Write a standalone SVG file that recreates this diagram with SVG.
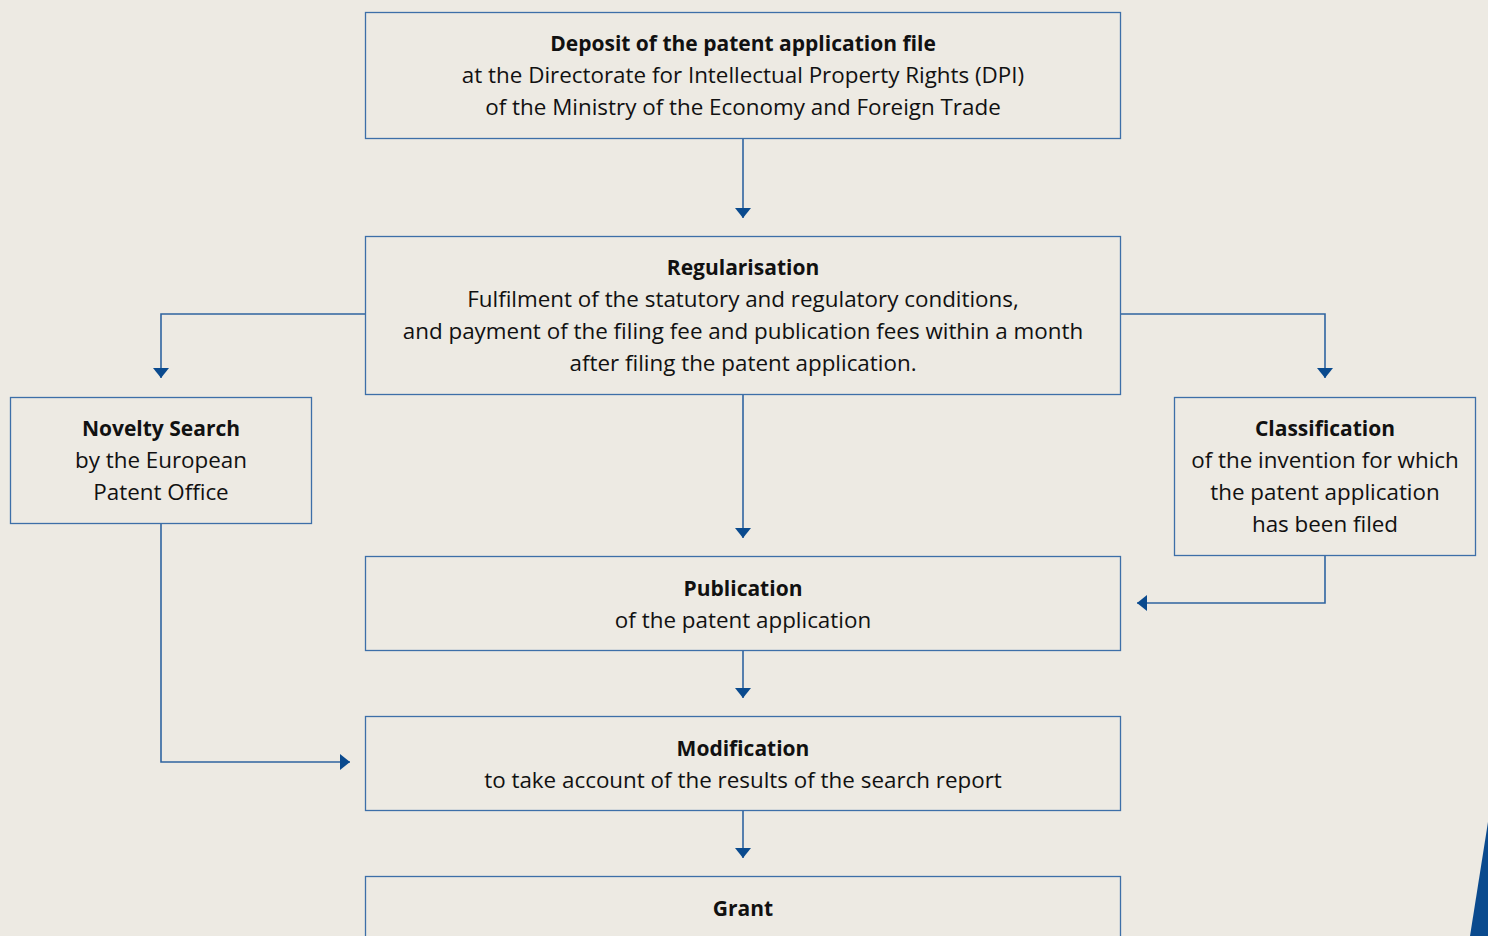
<svg xmlns="http://www.w3.org/2000/svg" width="1488" height="936" viewBox="0 0 1488 936">
<defs>
<style>
.box{fill:#edeae3;stroke:#3d6fa8;stroke-width:1.3}
.t{font-family:"Open Sans","Noto Sans","Liberation Sans",sans-serif;font-size:22.4px;fill:#111;text-anchor:middle}
.b{font-weight:bold;font-size:21px}
.c{fill:none;stroke:#2f64a0;stroke-width:1.6}
</style>
<marker id="ah" viewBox="0 0 10 16" refX="10" refY="8" markerWidth="10" markerHeight="16" markerUnits="userSpaceOnUse" orient="auto">
<path d="M0,0 L10,8 L0,16 Z" fill="#0a4a8e"/>
</marker>
</defs>
<rect width="1488" height="936" fill="#edeae3"/>
<polygon points="1488,822 1470,936 1488,936" fill="#0a4a8e"/>
<g id="connectors">
<path class="c" d="M743,139 V218" marker-end="url(#ah)"/>
<path class="c" d="M365,314 H161 V378" marker-end="url(#ah)"/>
<path class="c" d="M1121,314 H1325 V378" marker-end="url(#ah)"/>
<path class="c" d="M743,395 V538" marker-end="url(#ah)"/>
<path class="c" d="M1325,555 V603 H1137" marker-end="url(#ah)"/>
<path class="c" d="M743,651 V698" marker-end="url(#ah)"/>
<path class="c" d="M161,523 V762 H350" marker-end="url(#ah)"/>
<path class="c" d="M743,811 V858" marker-end="url(#ah)"/>
</g>
<g id="deposit">
<rect class="box" x="365.5" y="12.5" width="755" height="126"/>
<text class="t b" x="743" y="51">Deposit of the patent application file</text>
<text class="t" x="743" y="83">at the Directorate for Intellectual Property Rights (DPI)</text>
<text class="t" x="743" y="115">of the Ministry of the Economy and Foreign Trade</text>
</g>
<g id="regularisation">
<rect class="box" x="365.5" y="236.5" width="755" height="158"/>
<text class="t b" x="743" y="275">Regularisation</text>
<text class="t" x="743" y="307">Fulfilment of the statutory and regulatory conditions,</text>
<text class="t" x="743" y="339">and payment of the filing fee and publication fees within a month</text>
<text class="t" x="743" y="371">after filing the patent application.</text>
</g>
<g id="novelty">
<rect class="box" x="10.5" y="397.5" width="301" height="126"/>
<text class="t b" x="161" y="436">Novelty Search</text>
<text class="t" x="161" y="468">by the European</text>
<text class="t" x="161" y="500">Patent Office</text>
</g>
<g id="classification">
<rect class="box" x="1174.5" y="397.5" width="301" height="158"/>
<text class="t b" x="1325" y="436">Classification</text>
<text class="t" x="1325" y="468">of the invention for which</text>
<text class="t" x="1325" y="500">the patent application</text>
<text class="t" x="1325" y="532">has been filed</text>
</g>
<g id="publication">
<rect class="box" x="365.5" y="556.5" width="755" height="94"/>
<text class="t b" x="743" y="596">Publication</text>
<text class="t" x="743" y="628">of the patent application</text>
</g>
<g id="modification">
<rect class="box" x="365.5" y="716.5" width="755" height="94"/>
<text class="t b" x="743" y="756">Modification</text>
<text class="t" x="743" y="788">to take account of the results of the search report</text>
</g>
<g id="grant">
<rect class="box" x="365.5" y="876.5" width="755" height="94"/>
<text class="t b" x="743" y="916">Grant</text>
</g>
</svg>
